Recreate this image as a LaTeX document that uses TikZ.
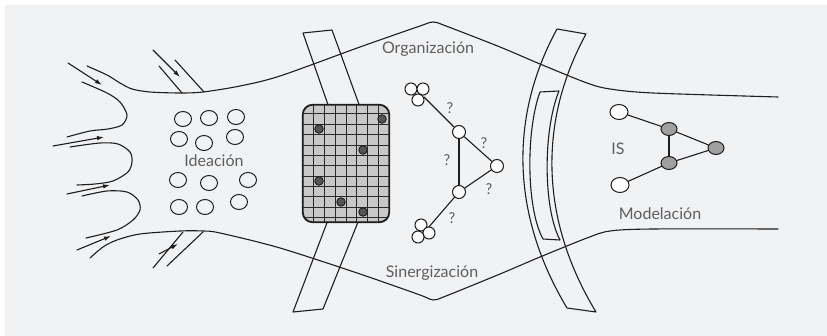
\documentclass[tikz,border=0pt]{standalone}
\usepackage{fontspec}
\setmainfont{Lato}
\usetikzlibrary{arrows.meta,shapes.geometric}
\definecolor{bg}{HTML}{F1F2F4}
\definecolor{ink}{HTML}{1E1E1E}
\definecolor{txt}{HTML}{5E5E5E}
\definecolor{gridfill}{HTML}{C8C8C8}
\definecolor{gridline}{HTML}{2A2A2A}
\definecolor{dotfill}{HTML}{555555}
\definecolor{nodegray}{HTML}{A0A0A0}
\tikzset{
  ln/.style={draw=ink, line width=1.1pt, line join=round, line cap=round},
  arr/.style={ln, -{Latex[length=7pt,width=4.5pt]}},
  idea/.style={ellipse, draw=ink, line width=1pt, minimum width=17pt, minimum height=15pt, inner sep=0pt},
  lbl/.style={text=txt, font=\fontsize{16}{19}\selectfont, inner sep=0pt},
  qlbl/.style={text=txt, font=\fontsize{15}{18}\selectfont, inner sep=0pt},
  net/.style={circle, draw=ink, fill=white, line width=1pt, minimum size=13pt, inner sep=0pt},
  clus/.style={circle, draw=ink, fill=white, line width=1pt, minimum size=12pt, inner sep=0pt},
  gdot/.style={circle, draw=ink, fill=dotfill, line width=0.9pt, minimum size=8.5pt, inner sep=0pt},
  gnode/.style={ellipse, draw=ink, fill=nodegray, line width=1pt, minimum width=16pt, minimum height=13pt, inner sep=0pt},
  onode/.style={ellipse, draw=ink, fill=white, line width=1pt, minimum width=18pt, minimum height=15pt, inner sep=0pt},
}
\begin{document}
\begin{tikzpicture}[x=1pt,y=-1pt]
\fill[white] (0,0) rectangle (827,336);
\fill[bg] (5,5) rectangle (827,336);
\useasboundingbox (0,0) rectangle (827,336);

% boundaries
\draw[ln] plot[smooth, tension=0.5] coordinates {(87,66) (107,75) (120,83) (132,89) (150,92) (180,93) (203,92) (240,86) (280,76) (360,47) (420,26) (433,22) (446,26) (500,47) (540,64) (587,83) (610,89) (653,93) (778,97)};
\draw[ln] plot[smooth, tension=0.5] coordinates {(90,258) (103,247) (117,240) (140,234) (180,231) (203,231) (220,233) (280,248) (360,274) (420,295) (433,300) (446,296) (500,274) (540,257) (587,238) (610,231) (653,229) (778,229)};

% fingers
\draw[ln] plot[smooth, tension=0.5] coordinates {(82,82) (107,93) (120,102) (127,115) (122,125) (108,129) (90,131) (67,137)};
\draw[ln] plot[smooth, tension=0.5] coordinates {(70,147) (100,143) (118,144) (130,152) (132,162) (128,172) (113,181) (95,184) (77,185)};
\draw[ln] plot[smooth, tension=0.5] coordinates {(82,196) (107,191) (127,192) (138,200) (140,210) (133,220) (117,230) (86,238)};

% channel lines
\draw[ln] (159,66) -- (182,93);
\draw[ln] (175,60) -- (204,92);
\draw[ln] (153,268) -- (183,232);
\draw[ln] (167,266) -- (203,232);

% arrows
\coordinate (a1s) at (68,63);   \coordinate (a1e) at (102,85);
\coordinate (a2s) at (53,146);  \coordinate (a2e) at (104,137);
\coordinate (a3s) at (67,194);  \coordinate (a3e) at (110,185);
\coordinate (a4s) at (77,250);  \coordinate (a4e) at (111,236);
\coordinate (a5s) at (153,50);  \coordinate (a5e) at (180,77);
\coordinate (a6s) at (159,254); \coordinate (a6e) at (178,244);
\draw[arr] (a1s) -- (a1e);
\draw[arr] (a2s) -- (a2e);
\draw[arr] (a3s) -- (a3e);
\draw[arr] (a4s) -- (a4e);
\draw[arr] (a5s) -- (a5e);
\draw[arr] (a6s) -- (a6e);

% ideation circles
\node[idea] (i1) at (183,119) {};
\node[idea] (i2) at (209,118) {};
\node[idea] (i3) at (236,117) {};
\node[idea] (i4) at (179,139) {};
\node[idea] (i5) at (204,143) {};
\node[idea] (i6) at (235,137) {};
\node[idea] (i7) at (178,180) {};
\node[idea] (i8) at (209,183) {};
\node[idea] (i9) at (248,180) {};
\node[idea] (i10) at (179,207) {};
\node[idea] (i11) at (205,207) {};
\node[idea] (i12) at (239,202) {};
\node[lbl] (ideacion) at (214,161) {Ideación};

% left band
\draw[ln] (303,33) -- (332,30) -- (381,165) -- (323,309) -- (293,312) -- (349,165) -- cycle;

% grid box
\node[draw=ink, fill=gridfill, line width=1.1pt, rounded corners=10pt, minimum width=86pt, minimum height=117pt, inner sep=0pt] (grid) at (346,163.5) {};
\begin{scope}
\clip[rounded corners=10pt] (303,105) rectangle (389,222);
\foreach \x in {313.75,324.5,335.25,346.1,356.75,367.5,378.25}
  \draw[gridline, line width=1pt] (\x,100) -- (\x,227);
\foreach \y in {114,124.4,134.7,145.1,155.5,165.9,176.2,186.6,197,207.3,217.7}
  \draw[gridline, line width=1pt] (298,\y) -- (394,\y);
\end{scope}
\draw[draw=ink, line width=1.1pt, rounded corners=10pt] (grid.south west) rectangle (grid.north east);
\node[gdot] (d1) at (382,119) {};
\node[gdot] (d2) at (319,129) {};
\node[gdot] (d3) at (363,150) {};
\node[gdot] (d4) at (319,181) {};
\node[gdot] (d5) at (341,202) {};
\node[gdot] (d6) at (363,212) {};

% middle network
\coordinate (tj) at (424,97);
\coordinate (bj) at (428,228);
\node[net] (A) at (459,132) {};
\node[net] (B) at (497,166) {};
\node[net] (C) at (459,192) {};
\draw[ln] (tj) -- (A);
\draw[ln] (A) -- (B);
\draw[ln] (A) -- (C);
\draw[ln] (C) -- (B);
\draw[ln] (C) -- (bj);
\node[clus] (t1) at (411,89) {};
\node[clus] (t2) at (423,89) {};
\node[clus] (t3) at (418,100) {};
\node[clus] (b1) at (421,225) {};
\node[clus] (b2) at (429,233) {};
\node[clus] (b3) at (418,237) {};
\node[qlbl] (q1) at (450,108) {?};
\node[qlbl] (q2) at (484,143) {?};
\node[qlbl] (q3) at (447,160) {?};
\node[qlbl] (q4) at (489,189) {?};
\node[qlbl] (q5) at (452,218) {?};

% right band
\draw[ln] (557,29) -- (586,34) .. controls (539,120) and (539,218) .. (596,312) -- (567,308) .. controls (510,213) and (510,115) .. (557,29) -- cycle;
\draw[ln] (540,92) -- (559,91) .. controls (543,130) and (543,208) .. (560,240) -- (543,239) .. controls (526,208) and (526,130) .. (540,92) -- cycle;

% right network
\node[onode] (o1) at (619,112) {};
\node[onode] (o2) at (620,185) {};
\node[gnode] (g1) at (669,129) {};
\node[gnode] (g2) at (716,148) {};
\node[gnode] (g3) at (669,163) {};
\draw[ln] (o1) -- (g1);
\draw[ln] (g1) -- (g2);
\draw[ln] (g1) -- (g3);
\draw[ln] (g3) -- (g2);
\draw[ln] (g3) -- (o2);

% labels
\node[lbl] (org) at (428,49) {Organización};
\node[lbl] (sin) at (432,273) {Sinergización};
\node[lbl] (is) at (618,149) {IS};
\node[lbl] (mod) at (660,214) {Modelación};
\end{tikzpicture}
\end{document}
